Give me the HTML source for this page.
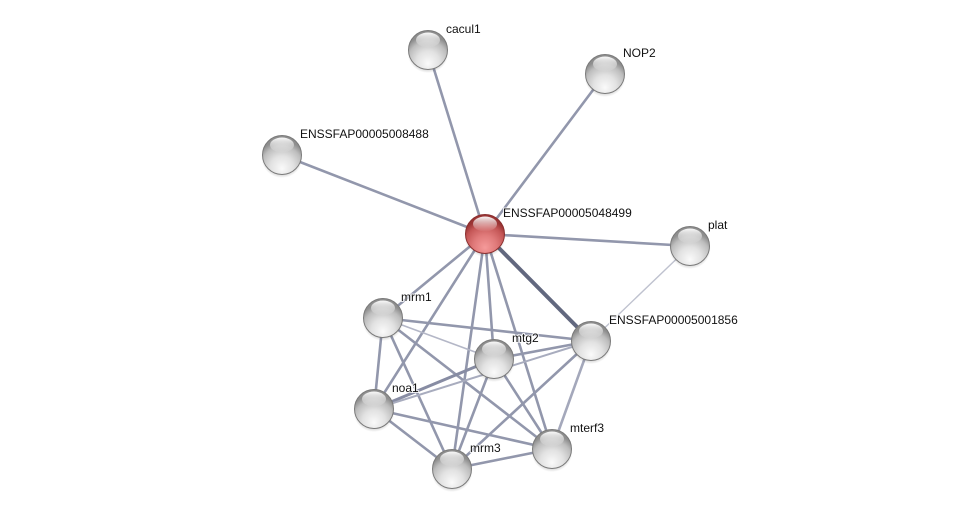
<!DOCTYPE html>
<html>
<head>
<meta charset="utf-8">
<style>
html,body{margin:0;padding:0;background:#fff;}
svg{display:block;}
text{font-family:"Liberation Sans",Arial,sans-serif;font-size:12px;fill:#111;paint-order:stroke;stroke:#fff;stroke-width:2px;stroke-opacity:0.8;}
</style>
</head>
<body>
<svg width="976" height="514" viewBox="0 0 976 514" xmlns="http://www.w3.org/2000/svg">
<defs>
  <radialGradient id="gg" cx="50%" cy="78%" r="65%" fx="50%" fy="85%">
    <stop offset="0%" stop-color="#fafafa"/>
    <stop offset="45%" stop-color="#e2e2e2"/>
    <stop offset="80%" stop-color="#bdbdbd"/>
    <stop offset="100%" stop-color="#8e8e8e"/>
  </radialGradient>
  <radialGradient id="rg" cx="50%" cy="78%" r="65%" fx="50%" fy="85%">
    <stop offset="0%" stop-color="#f59a9a"/>
    <stop offset="45%" stop-color="#e07a7a"/>
    <stop offset="80%" stop-color="#c45656"/>
    <stop offset="100%" stop-color="#9a3434"/>
  </radialGradient>
  <linearGradient id="hl" x1="0" y1="0" x2="0" y2="1">
    <stop offset="0%" stop-color="#fff" stop-opacity="0.95"/>
    <stop offset="100%" stop-color="#fff" stop-opacity="0"/>
  </linearGradient>
  <radialGradient id="sh" cx="50%" cy="50%" r="50%">
    <stop offset="60%" stop-color="#000" stop-opacity="0.35"/>
    <stop offset="100%" stop-color="#000" stop-opacity="0"/>
  </radialGradient>
  <g id="gnode">
    <ellipse cx="0" cy="3" rx="20.5" ry="20" fill="url(#sh)"/>
    <circle cx="0" cy="0" r="19.5" fill="url(#gg)" stroke="#7a7a7a" stroke-width="1"/>
    <ellipse cx="0" cy="-10" rx="12" ry="7.5" fill="url(#hl)"/>
  </g>
  <g id="rnode">
    <ellipse cx="0" cy="3" rx="20.5" ry="20" fill="url(#sh)"/>
    <circle cx="0" cy="0" r="19.5" fill="url(#rg)" stroke="#8a2e2e" stroke-width="1"/>
    <ellipse cx="0" cy="-10" rx="12" ry="7.5" fill="url(#hl)"/>
  </g>
</defs>

<!-- edges -->
<g stroke="#9297ac" stroke-width="2.6" stroke-linecap="round" fill="none">
  <!-- from red -->
  <line x1="485" y1="234" x2="428" y2="50"/>
  <line x1="485" y1="234" x2="605" y2="74"/>
  <line x1="485" y1="234" x2="282" y2="155"/>
  <line x1="485" y1="234" x2="690" y2="246"/>
  <line x1="485" y1="234" x2="383" y2="318"/>
  <line x1="485" y1="234" x2="494" y2="359"/>
  <line x1="485" y1="234" x2="374" y2="409"/>
  <line x1="485" y1="234" x2="452" y2="469"/>
  <line x1="485" y1="234" x2="552" y2="449"/>
  <!-- cluster -->
  <line x1="383" y1="318" x2="591" y2="341"/>
  <line x1="383" y1="318" x2="374" y2="409"/>
  <line x1="383" y1="318" x2="452" y2="469"/>
  <line x1="383" y1="318" x2="552" y2="449"/>
  <line x1="494" y1="359" x2="591" y2="341"/>
  <line x1="494" y1="359" x2="374" y2="409" stroke="#878ca3" stroke-width="3"/>
  <line x1="494" y1="359" x2="452" y2="469"/>
  <line x1="494" y1="359" x2="552" y2="449"/>
  <line x1="374" y1="409" x2="552" y2="449"/>
  <line x1="374" y1="409" x2="452" y2="469"/>
  <line x1="591" y1="341" x2="452" y2="469"/>
  <line x1="591" y1="341" x2="552" y2="449" stroke="#a4a8bb"/>
  <line x1="452" y1="469" x2="552" y2="449"/>
</g>
<g stroke="#b4b7c7" stroke-width="1.6" fill="none">
  <line x1="690" y1="246" x2="591" y2="341" stroke="#bfc2cf" stroke-width="1.4"/>
  <line x1="383" y1="318" x2="494" y2="359"/>
  <line x1="374" y1="409" x2="591" y2="341" stroke="#a8acbe" stroke-width="2"/>
</g>
<line x1="485" y1="234" x2="591" y2="341" stroke="#62687f" stroke-width="4" stroke-linecap="round"/>

<!-- nodes -->
<use href="#gnode" x="428" y="50"/>
<use href="#gnode" x="605" y="74"/>
<use href="#gnode" x="282" y="155"/>
<use href="#gnode" x="690" y="246"/>
<use href="#gnode" x="383" y="318"/>
<use href="#gnode" x="591" y="341"/>
<use href="#gnode" x="494" y="359"/>
<use href="#gnode" x="374" y="409"/>
<use href="#gnode" x="552" y="449"/>
<use href="#gnode" x="452" y="469"/>
<use href="#rnode" x="485" y="234"/>

<!-- labels -->
<text x="446" y="33">cacul1</text>
<text x="623" y="57">NOP2</text>
<text x="300" y="138">ENSSFAP00005008488</text>
<text x="503" y="217">ENSSFAP00005048499</text>
<text x="708" y="229">plat</text>
<text x="401" y="301">mrm1</text>
<text x="609" y="324">ENSSFAP00005001856</text>
<text x="512" y="342">mtg2</text>
<text x="392" y="392">noa1</text>
<text x="570" y="432">mterf3</text>
<text x="470" y="452">mrm3</text>
</svg>
</body>
</html>
